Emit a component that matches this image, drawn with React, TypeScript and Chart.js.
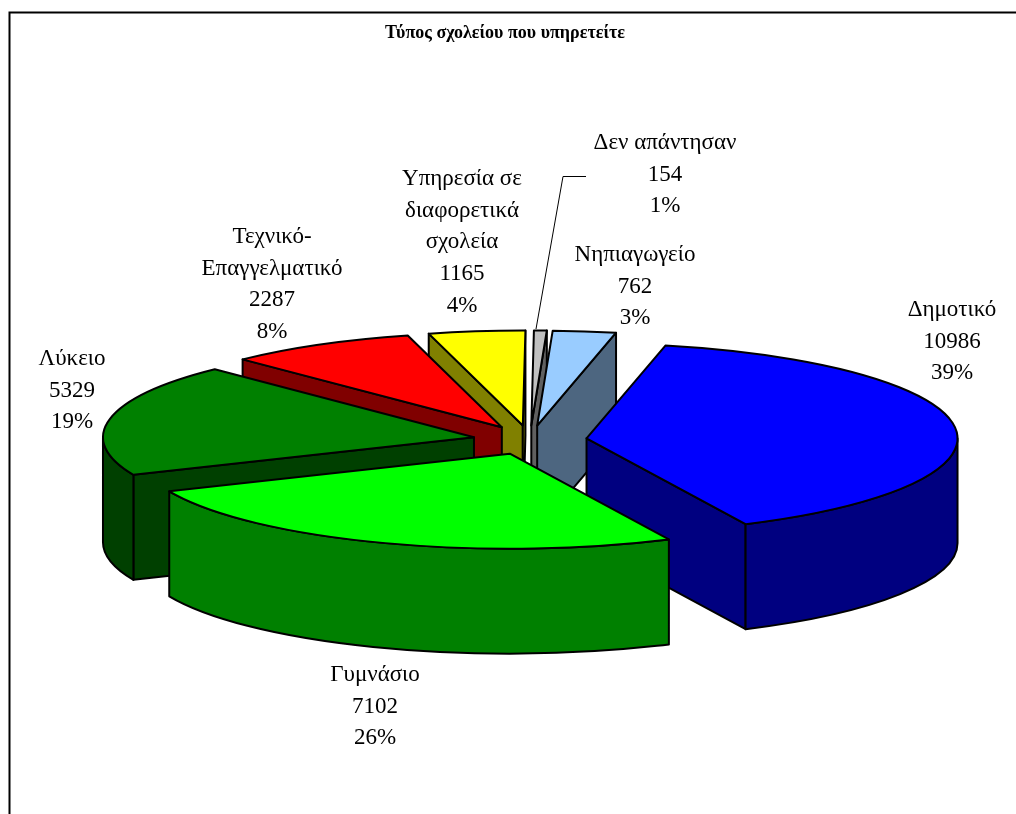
import React, { useEffect, useRef } from "react";
import { Chart, registerables } from "chart.js";

Chart.register(...registerables);

const categories = ["Νηπιαγωγείο", "Δημοτικό", "Γυμνάσιο", "Λύκειο", "Τεχνικό-Επαγγελματικό", "Υπηρεσία σε διαφορετικά σχολεία", "Δεν απάντησαν"];
const values = [762, 10986, 7102, 5329, 2287, 1165, 154];
const percents = ["3%", "39%", "26%", "19%", "8%", "4%", "1%"];
const labelNameLines = [["Νηπιαγωγείο"], ["Δημοτικό"], ["Γυμνάσιο"], ["Λύκειο"], ["Τεχνικό-", "Επαγγελματικό"], ["Υπηρεσία σε", "διαφορετικά", "σχολεία"], ["Δεν απάντησαν"]];
const topColors = ["#99CCFF", "#0000FF", "#00FF00", "#008000", "#FF0000", "#FFFF00", "#C0C0C0"];
const wallColors = ["#4D6680", "#000080", "#008000", "#004000", "#800000", "#808000", "#606060"];
const titleText = "Τύπος σχολείου που υπηρετείτε";

// Layout of the projected pie and of its labels (pixels on the canvas)
const CX = 529.9, CY = 440, RADIUS = 371, SQUASH = 0.256, EXPLODE = 57, DEPTH = 105;
const paintOrder = [6, 0, 5, 4, 3, 1, 2];
const labelCenters = [[635, 255], [952, 310], [375, 675], [72, 359], [272, 237], [462, 179], [665, 143]];
const LINE_H = 31.7;
const FONT = '"Liberation Serif", "Times New Roman", serif';

const pie3d = {
  id: "pie3d",
  beforeDatasetDraw(chart: any) {
    const ctx: CanvasRenderingContext2D = chart.ctx;
    const arcs = chart.getDatasetMeta(0).data;
    ctx.save();
    // frame
    ctx.strokeStyle = "#000";
    ctx.lineWidth = 2;
    ctx.beginPath();
    ctx.moveTo(9.5, 814);
    ctx.lineTo(9.5, 12.5);
    ctx.lineTo(1016, 12.5);
    ctx.stroke();

    for (const i of paintOrder) {
      const arc = arcs[i];
      const { startAngle: a0, endAngle: a1, outerRadius: r } = arc;
      const mid = (a0 + a1) / 2;
      const ax = CX + Math.cos(mid) * EXPLODE;
      const ay = CY + Math.sin(mid) * EXPLODE * SQUASH;
      const px = (a: number) => ax + Math.cos(a) * r;
      const py = (a: number) => ay + Math.sin(a) * r * SQUASH;
      ctx.lineJoin = "round";
      ctx.lineWidth = 2;
      ctx.strokeStyle = "#000";
      ctx.fillStyle = wallColors[i];

      const quad = (a: number) => {
        ctx.beginPath();
        ctx.moveTo(ax, ay);
        ctx.lineTo(px(a), py(a));
        ctx.lineTo(px(a), py(a) + DEPTH);
        ctx.lineTo(ax, ay + DEPTH);
        ctx.closePath();
        ctx.fill();
        ctx.stroke();
      };
      if (Math.cos(a0) < 0) quad(a0);
      if (Math.cos(a1) > 0) quad(a1);

      // Front-facing part of the rim: where sin(angle) > 0
      let from = a0, to = a1;
      const TAU = Math.PI * 2;
      const shift = Math.floor(from / TAU) * TAU;
      from -= shift; to -= shift;
      const s = Math.max(from, 0), e = Math.min(to, Math.PI);
      const s2 = Math.max(from, TAU), e2 = Math.min(to, TAU + Math.PI);
      for (const [p, q] of [[s, e], [s2, e2]]) {
        if (q <= p) continue;
        ctx.beginPath();
        ctx.ellipse(ax, ay, r, r * SQUASH, 0, p, q);
        ctx.lineTo(px(q), py(q) + DEPTH);
        ctx.ellipse(ax, ay + DEPTH, r, r * SQUASH, 0, q, p, true);
        ctx.closePath();
        ctx.fill();
        ctx.stroke();
      }

      // Top face: the library's own arc, squashed and moved out
      ctx.save();
      ctx.translate(ax, ay);
      ctx.scale(1, SQUASH);
      ctx.translate(-arc.x, -arc.y);
      arc.draw(ctx);
      ctx.restore();
      ctx.beginPath();
      ctx.moveTo(ax, ay);
      ctx.ellipse(ax, ay, r, r * SQUASH, 0, a0, a1);
      ctx.closePath();
      ctx.stroke();
    }
    ctx.restore();
    return false;
  },
  afterDraw(chart: any) {
    const ctx: CanvasRenderingContext2D = chart.ctx;
    ctx.save();
    ctx.fillStyle = "#000";
    ctx.font = `23px ${FONT}`;
    ctx.textAlign = "center";
    ctx.textBaseline = "middle";
    categories.forEach((_, i) => {
      const lines = [...labelNameLines[i], String(values[i]), percents[i]];
      const [x, y] = labelCenters[i];
      lines.forEach((t, n) => ctx.fillText(t, x, y + n * LINE_H));
    });
    // leader line of the smallest slice
    ctx.strokeStyle = "#000";
    ctx.lineWidth = 1;
    ctx.beginPath();
    ctx.moveTo(586, 176.5);
    ctx.lineTo(563, 176.5);
    ctx.lineTo(536, 329);
    ctx.stroke();
    ctx.restore();
  },
};

export default function App() {
  const ref = useRef<HTMLCanvasElement>(null);
  useEffect(() => {
    const chart = new Chart(ref.current!, {
      type: "pie",
      data: {
        labels: categories,
        datasets: [{ data: values, backgroundColor: topColors, borderWidth: 0, offset: 0 }],
      },
      options: {
        responsive: false,
        animation: false,
        rotation: 2.4,
        radius: RADIUS,
        layout: { padding: { right: 6 } },
        plugins: {
          legend: { display: false },
          tooltip: { enabled: false },
          title: {
            display: true,
            text: titleText,
            color: "#000",
            font: { family: FONT, size: 18, weight: "bold" },
            padding: { top: 23, bottom: 10 },
          },
        },
      },
      plugins: [pie3d],
    } as any);
    return () => chart.destroy();
  }, []);
  return (
    <canvas
      ref={ref}
      width={1016}
      height={814}
      style={{ position: "absolute", left: 0, top: 0, width: 1016, height: 814, background: "#fff" }}
    />
  );
}
